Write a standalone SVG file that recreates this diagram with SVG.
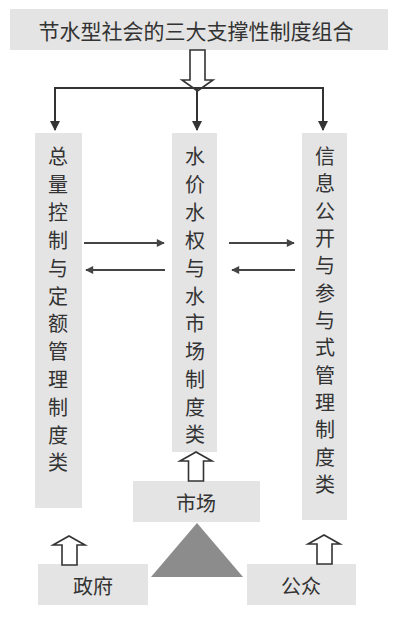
<svg xmlns="http://www.w3.org/2000/svg" width="400" height="620" viewBox="0 0 400 620">
<defs>
<style>
.box{fill:#e4e4e4}
.t{font-family:"Noto Sans CJK SC","Noto Sans",sans-serif;font-size:20px;fill:#333;text-anchor:middle;dominant-baseline:central}
.ttl{font-size:21px}
.ln{stroke:#333;stroke-width:2;fill:none}
.thin{stroke:#444;stroke-width:2;fill:none}
.hollow{fill:#fff;stroke:#333;stroke-width:1.6}
</style>
<marker id="ah" viewBox="0 0 10 10" refX="9" refY="5" markerWidth="5" markerHeight="5" orient="auto" markerUnits="strokeWidth">
<path d="M0,0 L10,5 L0,10 z" fill="#333"/>
</marker>
<marker id="ah2" viewBox="0 0 10 10" refX="9" refY="5" markerWidth="6" markerHeight="4" orient="auto" markerUnits="strokeWidth">
<path d="M0,0 L10,5 L0,10 z" fill="#444"/>
</marker>
</defs>
<rect width="400" height="620" fill="#fff"/>

<g id="title">
<rect class="box" x="10" y="9" width="378" height="41"/>
<text class="t ttl" x="196" y="30">节水型社会的三大支撑性制度组合</text>
</g>

<g id="left">
<rect class="box" x="35" y="133" width="47" height="375"/>
<text class="t" x="58" y="155">总</text>
<text class="t" x="58" y="183">量</text>
<text class="t" x="58" y="211">控</text>
<text class="t" x="58" y="239">制</text>
<text class="t" x="58" y="267">与</text>
<text class="t" x="58" y="295">定</text>
<text class="t" x="58" y="322">额</text>
<text class="t" x="58" y="350">管</text>
<text class="t" x="58" y="378">理</text>
<text class="t" x="58" y="406">制</text>
<text class="t" x="58" y="434">度</text>
<text class="t" x="58" y="461">类</text>
</g>

<g id="middle">
<rect class="box" x="172" y="133" width="45" height="319"/>
<text class="t" x="195" y="155">水</text>
<text class="t" x="195" y="183">价</text>
<text class="t" x="195" y="211">水</text>
<text class="t" x="195" y="239">权</text>
<text class="t" x="195" y="267">与</text>
<text class="t" x="195" y="295">水</text>
<text class="t" x="195" y="322">市</text>
<text class="t" x="195" y="350">场</text>
<text class="t" x="195" y="378">制</text>
<text class="t" x="195" y="406">度</text>
<text class="t" x="195" y="433">类</text>
</g>

<g id="right">
<rect class="box" x="302" y="133" width="45" height="387"/>
<text class="t" x="325" y="155">信</text>
<text class="t" x="325" y="182">息</text>
<text class="t" x="325" y="210">公</text>
<text class="t" x="325" y="237">开</text>
<text class="t" x="325" y="264">与</text>
<text class="t" x="325" y="292">参</text>
<text class="t" x="325" y="319">与</text>
<text class="t" x="325" y="346">式</text>
<text class="t" x="325" y="374">管</text>
<text class="t" x="325" y="401">理</text>
<text class="t" x="325" y="428">制</text>
<text class="t" x="325" y="456">度</text>
<text class="t" x="325" y="483">类</text>
</g>

<g id="market">
<rect class="box" x="133" y="481" width="127" height="41"/>
<text class="t" x="196" y="502">市场</text>
</g>

<g id="government">
<rect class="box" x="38" y="564" width="110" height="41"/>
<text class="t" x="93" y="585">政府</text>
</g>

<g id="public">
<rect class="box" x="247" y="564" width="109" height="41"/>
<text class="t" x="301" y="585">公众</text>
</g>

<g id="triangle">
<polygon points="197,523 151,577 243,577" fill="#8c8c8c"/>
</g>

<g id="connectors">
<polygon class="hollow" points="190,50 205,50 205,80 213,80 197.5,91 182,80 190,80"/>
<line class="ln" x1="54" y1="88" x2="324" y2="88"/>
<line class="ln" x1="55" y1="88" x2="55" y2="130" marker-end="url(#ah)"/>
<line class="ln" x1="197" y1="88" x2="197" y2="130" marker-end="url(#ah)"/>
<line class="ln" x1="323" y1="88" x2="323" y2="130" marker-end="url(#ah)"/>
<line class="thin" x1="84" y1="243" x2="164" y2="243" marker-end="url(#ah2)"/>
<line class="thin" x1="165" y1="270" x2="86" y2="270" marker-end="url(#ah2)"/>
<line class="thin" x1="229" y1="243" x2="294" y2="243" marker-end="url(#ah2)"/>
<line class="thin" x1="295" y1="270" x2="232" y2="270" marker-end="url(#ah2)"/>
<polygon class="hollow" points="188.5,481 203.5,481 203.5,461 212,461 196,452 180,461 188.5,461"/>
<polygon class="hollow" points="62,565 77,565 77,545 85,545 69,536 53,545 62,545"/>
<polygon class="hollow" points="317,564 332,564 332,544 340,544 324,535 308,544 317,544"/>
</g>
</svg>
